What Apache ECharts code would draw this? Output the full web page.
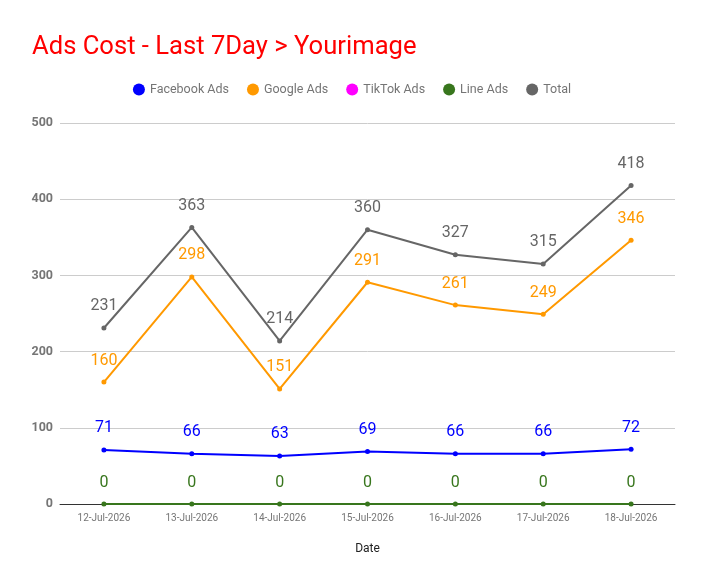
<!DOCTYPE html>
<html><head><meta charset="utf-8">
<script src="https://cdn.jsdelivr.net/npm/echarts@6/dist/echarts.min.js"></script>
<style>html,body{margin:0;padding:0;background:#fff}#c{width:704px;height:585px}</style>
</head><body><div id="c"></div>
<script>
const categories = ['12-Jul-2026','13-Jul-2026','14-Jul-2026','15-Jul-2026','16-Jul-2026','17-Jul-2026','18-Jul-2026'];
const facebookAds = [71, 66, 63, 69, 66, 66, 72];
const googleAds = [160, 298, 151, 291, 261, 249, 346];
const tiktokAds = [null, null, null, null, null, null, null];
const lineAds = [0, 0, 0, 0, 0, 0, 0];
const total = [231, 363, 214, 360, 327, 315, 418];
const yTicks = [0, 100, 200, 300, 400, 500];

const font = 'Roboto';
function mk(name, data, color, z){
  return {
    name, type:'line', data, z,
    symbol:'circle', symbolSize:5,
    lineStyle:{color, width:2},
    itemStyle:{color},
    label:{show:true, position:'top', distance:11, color, fontSize:16, fontFamily:font},
    emphasis:{disabled:true}
  };
}
const chart = echarts.init(document.getElementById('c'), null, {renderer:'canvas'});
chart.setOption({
  animation:false,
  backgroundColor:'#fff',
  title:{text:'Ads Cost - Last 7Day > Yourimage', left:27, top:30,
    textStyle:{color:'#ff0000', fontSize:25.6, fontWeight:'normal', fontFamily:font}},
  legend:{top:78, left:'center', icon:'circle', itemWidth:12, itemHeight:12, itemGap:18,
    textStyle:{color:'#757575', fontSize:12.5, fontFamily:font},
    data:['Facebook Ads','Google Ads','TikTok Ads','Line Ads','Total']},
  grid:{left:60, right:29, top:123, bottom:81},
  xAxis:{type:'category', data:categories, boundaryGap:true,
    name:'Date', nameLocation:'middle', nameGap:39,
    nameTextStyle:{color:'#222', fontSize:12, fontFamily:font},
    axisLine:{show:true, lineStyle:{color:'#333', width:1}},
    axisTick:{show:false},
    axisLabel:{color:'#757575', fontSize:10, fontFamily:font, margin:9, interval:0}},
  yAxis:{type:'value', min:yTicks[0], max:yTicks[yTicks.length-1], interval:100,
    axisLine:{show:false}, axisTick:{show:false},
    axisLabel:{color:'#757575', fontSize:12.5, fontWeight:'bold', fontFamily:font, margin:7},
    splitLine:{lineStyle:{color:'#cccccc', width:1}}},
  series:[
    mk('Facebook Ads', facebookAds, '#0000ff', 2),
    mk('Google Ads', googleAds, '#ff9900', 2),
    mk('TikTok Ads', tiktokAds, '#ff00ff', 2),
    mk('Line Ads', lineAds, '#38761d', 3),
    mk('Total', total, '#666666', 2)
  ]
});
</script></body></html>
